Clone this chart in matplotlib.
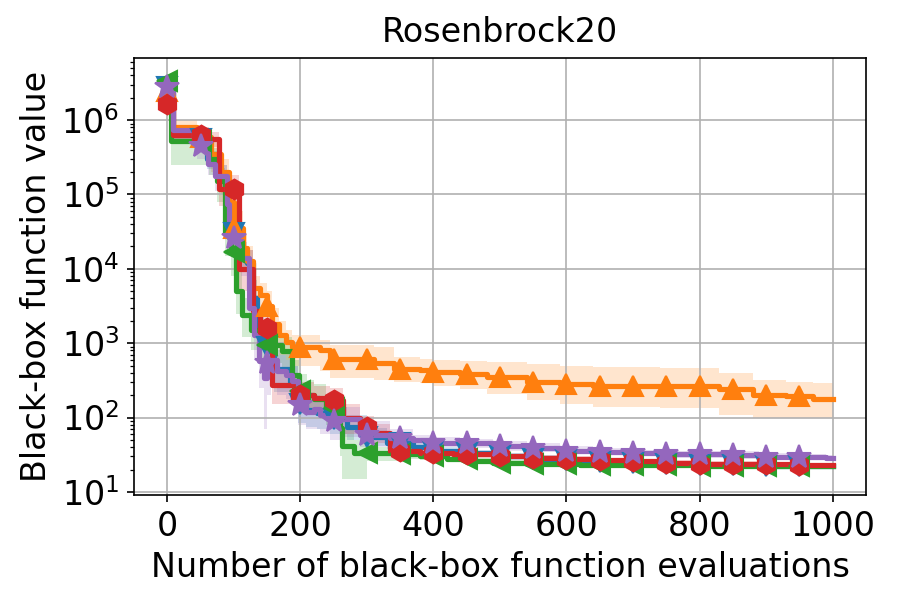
import numpy as np
import matplotlib
matplotlib.use('Agg')
import matplotlib.pyplot as plt

title = "Rosenbrock20"
xlabel = "Number of black-box function evaluations"
ylabel = "Black-box function value"

# ---- data (best-so-far mean, step breakpoints; lower / upper band) ----
blue_x = [0, 8, 40, 60, 75, 90, 95, 110, 120, 128, 135, 145, 160, 185, 196, 208, 225, 245, 270, 300, 330, 370, 400, 450, 500, 550, 600, 650, 700, 750, 800, 850, 900, 950, 1000]
blue_y = [2.8e6, 7e5, 5.5e5, 3e5, 1.8e5, 6e4, 3e4, 1.5e4, 1.2e4, 4e3, 1.5e3, 900, 450, 300, 150, 125, 115, 95, 75, 55, 45, 40, 36, 33, 30, 28, 26.5, 25.5, 24.5, 23.5, 23, 22.8, 22.5, 22.3, 22.3]
blue_lo = [2.3e6, 5.5e5, 4.3e5, 2.2e5, 1.2e5, 3.5e4, 1.7e4, 9e3, 7e3, 2e3, 800, 450, 220, 160, 85, 75, 70, 60, 50, 42, 38, 35, 32, 29.5, 27, 25.5, 24, 23.2, 22.3, 21.5, 21, 20.8, 20.5, 20.3, 20.3]
blue_hi = [3.2e6, 8.5e5, 6.5e5, 3.8e5, 2.5e5, 1e5, 5e4, 2.3e4, 1.8e4, 7e3, 2.8e3, 1.6e3, 800, 500, 240, 190, 170, 140, 110, 72, 54, 46, 40, 37, 33, 31, 29, 28, 27, 26, 25.2, 25, 24.7, 24.4, 24.4]

orange_x = [0, 8, 45, 65, 80, 92, 100, 113, 120, 128, 140, 150, 158, 168, 178, 188, 229, 244, 310, 340, 380, 400, 440, 480, 540, 590, 640, 740, 830, 880, 930, 970, 1000]
orange_y = [2.5e6, 8e5, 6e5, 3.5e5, 2e5, 8e4, 3.5e4, 1.9e4, 1.26e4, 5.5e3, 4.5e3, 3.2e3, 1.8e3, 1.3e3, 1.05e3, 900, 820, 620, 540, 450, 430, 414, 385, 355, 304, 283, 266, 262, 240, 204, 195, 180, 180]
orange_lo = [1.8e6, 5e5, 4e5, 2e5, 1e5, 3e4, 1.5e4, 9e3, 6e3, 3e3, 2.5e3, 1.8e3, 1e3, 700, 600, 500, 420, 340, 320, 300, 290, 270, 240, 210, 170, 150, 140, 135, 110, 100, 100, 98, 98]
orange_hi = [3.2e6, 1e6, 7e5, 5e5, 3e5, 1.2e5, 6e4, 3e4, 2e4, 8e3, 6.5e3, 5e3, 3e3, 2e3, 1.5e3, 1.3e3, 1.1e3, 950, 880, 650, 620, 600, 580, 560, 520, 500, 480, 470, 400, 320, 300, 290, 290]

green_x = [0, 5, 63, 75, 86, 95, 103, 112, 125, 140, 173, 188, 198, 210, 220, 239, 259, 262, 280, 300, 350, 380, 420, 460, 490, 540, 620, 690, 800, 900, 1000]
green_y = [3.4e6, 5.3e5, 3e5, 1.5e5, 2.9e4, 1.7e4, 5e3, 2.4e3, 1.5e3, 950, 780, 376, 225, 200, 180, 135, 72, 41, 33, 33, 32.5, 30, 28, 26, 24.6, 23.5, 23, 22.9, 22.5, 22.2, 22]
green_lo = [3e6, 2.5e5, 1.8e5, 8e4, 1.5e4, 8e3, 2.5e3, 1.2e3, 800, 550, 450, 220, 130, 120, 110, 80, 30, 15, 15, 26, 28, 26.5, 25, 23.5, 22.3, 21.5, 21, 21, 20.6, 20.3, 20.1]
green_hi = [3.8e6, 7e5, 4.2e5, 2.3e5, 5e4, 3e4, 9e3, 4e3, 2.5e3, 1.5e3, 1.2e3, 600, 380, 320, 280, 210, 120, 70, 50, 40, 37, 34, 31.5, 29, 27, 25.6, 25, 25, 24.5, 24.2, 24]

red_x = [0, 8, 63, 78, 108, 128, 140, 158, 191, 200, 221, 244, 264, 290, 310, 335, 380, 430, 490, 540, 590, 640, 690, 740, 790, 890, 940, 1000]
red_y = [1.65e6, 6.3e5, 5.5e5, 1.2e5, 1.0e4, 2.7e3, 1.6e3, 275, 224, 200, 185, 170, 98, 75, 62, 36, 33, 32, 30, 28.6, 27.6, 27, 25.7, 24.6, 24, 23.5, 23, 23]
red_lo = [1.3e6, 5e5, 4.3e5, 7e4, 5e3, 1.5e3, 800, 150, 140, 130, 120, 100, 60, 52, 46, 32, 30, 29, 27.5, 26.3, 25.5, 25, 23.8, 22.8, 22.3, 21.8, 21.4, 21.4]
red_hi = [2.2e6, 8e5, 7e5, 1.8e5, 1.8e4, 4.5e3, 3e3, 450, 340, 300, 270, 250, 150, 105, 82, 41, 36.5, 35, 32.5, 31, 30, 29, 27.8, 26.5, 25.8, 25.3, 24.7, 24.7]

purple_x = [0, 8, 40, 45, 61, 71, 89, 93, 111, 123, 131, 138, 146, 150, 156, 165, 178, 188, 196, 208, 220, 229, 244, 260, 290, 334, 370, 400, 440, 490, 540, 590, 640, 690, 740, 840, 890, 940, 990, 1000]
purple_y = [2.75e6, 7.3e5, 5.3e5, 4.5e5, 2.6e5, 1.78e5, 7.4e4, 2.6e4, 1.4e4, 3e3, 1.3e3, 570, 340, 540, 600, 420, 376, 310, 148, 120, 130, 110, 89, 95, 59, 53, 50, 46, 45, 41.5, 39, 36, 34.6, 33, 32.3, 31.4, 29.9, 29.3, 28.6, 28.6]
purple_lo = [2.2e6, 5.5e5, 4e5, 3e5, 1.8e5, 1.1e5, 4e4, 1.5e4, 8e3, 1.5e3, 600, 250, 70, 200, 250, 200, 180, 150, 80, 70, 70, 60, 50, 55, 40, 40, 42, 40, 39, 36, 34, 32, 31, 30, 29, 28, 27, 26.5, 26, 26]
purple_hi = [3.2e6, 8.5e5, 6.5e5, 5.5e5, 3.5e5, 2.5e5, 1.2e5, 4e4, 2e4, 5e3, 2.5e3, 1.1e3, 700, 900, 1e3, 700, 600, 500, 250, 200, 200, 170, 140, 140, 90, 70, 58, 54, 52, 48, 45, 41, 39, 37, 36, 35, 33.5, 32.5, 31.5, 31.5]

marker_evals = list(range(0, 1000, 50))

series = [
    (blue_x, blue_y, blue_lo, blue_hi, 'tab:blue', 'v'),
    (orange_x, orange_y, orange_lo, orange_hi, 'tab:orange', '^'),
    (green_x, green_y, green_lo, green_hi, 'tab:green', '<'),
    (red_x, red_y, red_lo, red_hi, 'tab:red', 'h'),
    (purple_x, purple_y, purple_lo, purple_hi, 'tab:purple', '*'),
]

plt.rcParams['font.family'] = ['DejaVu Sans']
plt.rcParams['font.size'] = 16

fig, ax = plt.subplots(figsize=(6, 4), dpi=150)
fig.subplots_adjust(left=0.149, right=0.962, bottom=0.175, top=0.903)

for xs, ys, lo, hi, c, m in series:
    xs = np.asarray(xs, float)
    ys = np.asarray(ys, float)
    ax.step(xs, ys, where='post', color=c, lw=2.5, zorder=2)
    ax.fill_between(xs, lo, hi, step='post', color=c, alpha=0.2, lw=0, zorder=1)
    me = np.asarray(marker_evals, float)
    idx = np.searchsorted(xs, me, side='right') - 1
    ax.plot(me, ys[idx], linestyle='none', marker=m, color=c,
            markersize=9.5 if m != '*' else 12, zorder=3)

ax.set_yscale('log')
ax.set_xlim(-50, 1050)
ax.set_ylim(9.1, 6.8e6)
ax.grid(True, which='major')
ax.set_title(title, fontsize=16, pad=8)
ax.set_xlabel(xlabel, fontsize=16)
ax.set_ylabel(ylabel, fontsize=16)
ax.tick_params(labelsize=16)

fig.savefig('out.png', dpi=150)
